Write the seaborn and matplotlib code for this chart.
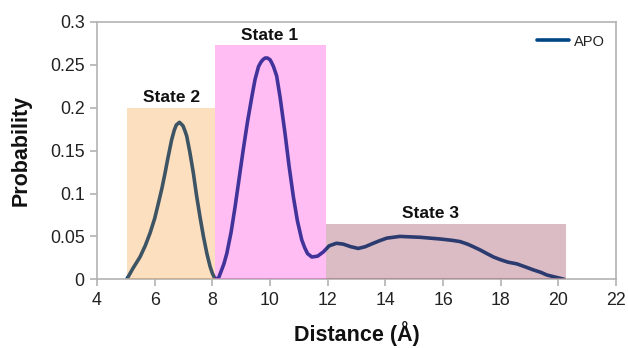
import matplotlib
matplotlib.use("Agg")
import matplotlib.pyplot as plt
from matplotlib.ticker import FixedLocator, FuncFormatter
import seaborn as sns

# Probability distribution of the distance for the APO system
distance = [5.03, 5.25, 5.49, 5.67, 5.84, 6.0, 6.13, 6.25, 6.36, 6.45, 6.59,
            6.68, 6.75, 6.86, 6.98, 7.05, 7.11, 7.22, 7.34, 7.45, 7.57, 7.69,
            7.81, 7.92, 8.0, 8.07, 8.15, 8.22, 8.3, 8.4, 8.5, 8.65, 8.79,
            8.93, 9.07, 9.22, 9.37, 9.48, 9.6, 9.68, 9.75, 9.83, 9.91, 10.0,
            10.05, 10.12, 10.23, 10.35, 10.52, 10.66, 10.81, 10.95, 11.1,
            11.2, 11.3, 11.45, 11.65, 11.85, 12.05, 12.3, 12.54, 12.8, 13.06,
            13.3, 13.58, 13.8, 14.05, 14.5, 15.2, 15.9, 16.3, 16.59, 16.85,
            17.05, 17.3, 17.52, 17.75, 17.98, 18.25, 18.56, 18.85, 19.13,
            19.4, 19.6, 19.9, 20.2]
probability = [0.0, 0.013, 0.026, 0.039, 0.054, 0.071, 0.089, 0.106, 0.124,
               0.140, 0.163, 0.174, 0.180, 0.183, 0.179, 0.173, 0.167, 0.148,
               0.124, 0.098, 0.073, 0.050, 0.030, 0.015, 0.007, 0.002, 0.0,
               0.002, 0.009, 0.018, 0.030, 0.055, 0.085, 0.118, 0.151, 0.184,
               0.213, 0.233, 0.248, 0.253, 0.256, 0.258, 0.258, 0.256, 0.253,
               0.248, 0.237, 0.212, 0.170, 0.132, 0.096, 0.068, 0.046, 0.037,
               0.030, 0.026, 0.027, 0.032, 0.039, 0.042, 0.041, 0.038, 0.036,
               0.038, 0.042, 0.045, 0.048, 0.050, 0.049, 0.047, 0.0455, 0.044,
               0.041, 0.038, 0.034, 0.030, 0.026, 0.023, 0.020, 0.018, 0.0145,
               0.011, 0.008, 0.005, 0.0025, 0.0]
series_name = "APO"

# Distance windows that define the three states
state_names = ["State 2", "State 1", "State 3"]
state_start = [5.05, 8.1, 11.94]
state_end = [8.1, 11.94, 20.28]
state_height = [0.2, 0.273, 0.065]
state_label_x = [6.57, 10.0, 15.55]

x_ticks = [4, 6, 8, 10, 12, 14, 16, 18, 20, 22]
y_ticks = [0, 0.05, 0.1, 0.15, 0.2, 0.25, 0.3]

sns.set_theme(style="white")
plt.rcParams["font.family"] = ["Liberation Sans", "DejaVu Sans"]

fig = plt.figure(figsize=(6.28, 3.48), dpi=100)
ax = fig.add_axes([0.1545, 0.1974, 0.8265, 0.7394])

line_color = "#004586"
sns.lineplot(x=distance, y=probability, ax=ax, color=line_color,
             linewidth=2.6, label=series_name, zorder=2,
             solid_joinstyle="round", solid_capstyle="round")

# Translucent state boxes laid over the curve
state_colors = ["#f78300", "#ff00d5", "#8b2741"]
state_alpha = [0.25, 0.26, 0.31]
for lo, hi, h, c, a in zip(state_start, state_end, state_height,
                           state_colors, state_alpha):
    ax.bar([lo], [h], width=[hi - lo], align="edge", color=c, alpha=a,
           linewidth=0, zorder=3)

for name, xl, h in zip(state_names, state_label_x, state_height):
    ax.text(xl, h + 0.003, name, ha="center", va="bottom",
            fontsize=12.5, fontweight="bold", color="#111111", zorder=4)

ax.set_xlim(4, 22)
ax.set_ylim(0, 0.3)
ax.xaxis.set_major_locator(FixedLocator(x_ticks))
ax.yaxis.set_major_locator(FixedLocator(y_ticks))
ax.yaxis.set_major_formatter(FuncFormatter(lambda v, _: f"{v:g}"))

spine_color = "#b3b3b3"
for s in ax.spines.values():
    s.set_visible(True)
    s.set_color(spine_color)
    s.set_linewidth(1.2)
ax.tick_params(axis="both", which="major", direction="out", length=5,
               width=1.2, color=spine_color, labelsize=12.8,
               labelcolor="#222222", pad=4, bottom=True, left=True)

ax.set_xlabel("Distance (Å)", fontsize=15.5, fontweight="bold",
              color="#111111", labelpad=9)
ax.set_ylabel("Probability", fontsize=15.5, fontweight="bold",
              color="#111111", labelpad=13)

leg = ax.legend(loc="upper right", frameon=False, fontsize=10.5,
                handlelength=2.2, handletextpad=0.3,
                bbox_to_anchor=(0.995, 0.985), borderaxespad=0.2)
for t in leg.get_texts():
    t.set_color("#222222")

fig.savefig("out.png", dpi=100)
